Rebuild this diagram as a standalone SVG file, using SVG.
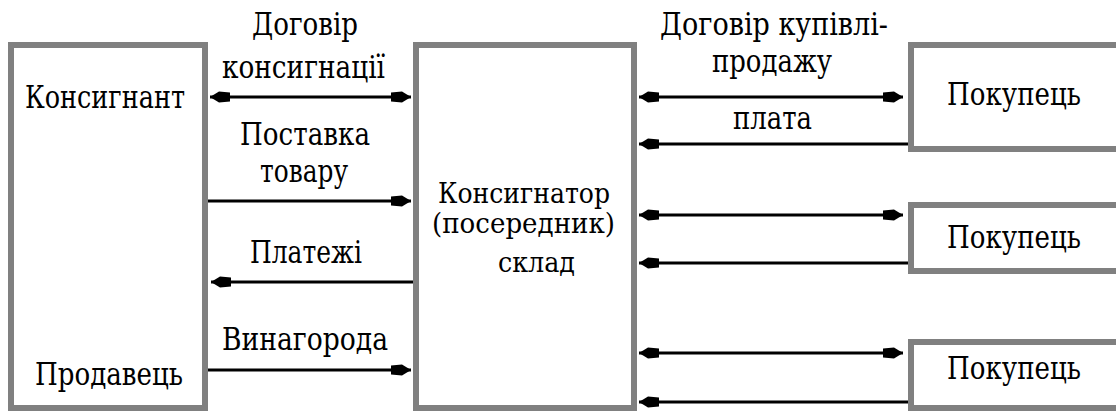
<svg xmlns="http://www.w3.org/2000/svg" width="1116" height="412" viewBox="0 0 1116 412">
  <style>
    .box { fill: #ffffff; stroke: #808080; stroke-width: 6; }
    .t { font-family: 'DejaVu Serif', 'Liberation Serif', serif; font-size: 32px; fill: #000000; }
    .m { font-size: 28px; }
    .c { stroke: #000000; stroke-width: 3; fill: none; }
  </style>
  <defs>
    <marker id="ah" markerUnits="userSpaceOnUse" markerWidth="24" markerHeight="16" refX="22" refY="8" orient="auto-start-reverse" overflow="visible">
      <path d="M22,8 L13,2.5 L2,3.5 L2,12.5 L13,13.5 Z" fill="#000000"/>
    </marker>
  </defs>
  <rect width="1116" height="412" fill="#ffffff"/>

  <g id="konsygnant">
    <rect class="box" x="11" y="45" width="194" height="363"/>
    <text class="t" x="25" y="108" textLength="160" lengthAdjust="spacingAndGlyphs">Консигнант</text>
    <text class="t" x="35" y="385" textLength="148" lengthAdjust="spacingAndGlyphs">Продавець</text>
  </g>

  <g id="konsygnator">
    <rect class="box" x="416" y="45" width="218" height="363"/>
    <text class="t m" x="438" y="203" textLength="172" lengthAdjust="spacingAndGlyphs">Консигнатор</text>
    <text class="t m" x="432" y="233" textLength="183" lengthAdjust="spacingAndGlyphs">(посередник)</text>
    <text class="t m" x="498" y="272" textLength="77" lengthAdjust="spacingAndGlyphs">склад</text>
  </g>

  <g id="pokupets1">
    <rect class="box" x="911" y="45" width="220" height="104"/>
    <text class="t" x="947" y="105" textLength="134" lengthAdjust="spacingAndGlyphs">Покупець</text>
  </g>
  <g id="pokupets2">
    <rect class="box" x="911" y="205" width="220" height="66"/>
    <text class="t" x="947" y="248" textLength="134" lengthAdjust="spacingAndGlyphs">Покупець</text>
  </g>
  <g id="pokupets3">
    <rect class="box" x="911" y="342" width="220" height="66"/>
    <text class="t" x="947" y="379" textLength="134" lengthAdjust="spacingAndGlyphs">Покупець</text>
  </g>

  <g id="connectors">
    <line class="c" x1="210" y1="97" x2="411" y2="97" marker-start="url(#ah)" marker-end="url(#ah)"/>
    <line class="c" x1="208" y1="201" x2="411" y2="201" marker-end="url(#ah)"/>
    <line class="c" x1="413" y1="282" x2="211" y2="282" marker-end="url(#ah)"/>
    <line class="c" x1="208" y1="370" x2="411" y2="370" marker-end="url(#ah)"/>

    <line class="c" x1="639" y1="97" x2="903" y2="97" marker-start="url(#ah)" marker-end="url(#ah)"/>
    <line class="c" x1="908" y1="144" x2="639" y2="144" marker-end="url(#ah)"/>
    <line class="c" x1="639" y1="215" x2="903" y2="215" marker-start="url(#ah)" marker-end="url(#ah)"/>
    <line class="c" x1="908" y1="263" x2="639" y2="263" marker-end="url(#ah)"/>
    <line class="c" x1="639" y1="353" x2="903" y2="353" marker-start="url(#ah)" marker-end="url(#ah)"/>
    <line class="c" x1="908" y1="402" x2="639" y2="402" marker-end="url(#ah)"/>
  </g>

  <g id="labels">
    <text class="t" x="252" y="35" textLength="106" lengthAdjust="spacingAndGlyphs">Договір</text>
    <text class="t" x="222" y="78" textLength="163" lengthAdjust="spacingAndGlyphs">консигнації</text>
    <text class="t" x="240" y="145" textLength="130" lengthAdjust="spacingAndGlyphs">Поставка</text>
    <text class="t" x="260" y="182" textLength="88" lengthAdjust="spacingAndGlyphs">товару</text>
    <text class="t" x="250" y="263" textLength="112" lengthAdjust="spacingAndGlyphs">Платежі</text>
    <text class="t" x="222" y="350" textLength="166" lengthAdjust="spacingAndGlyphs">Винагорода</text>
    <text class="t" x="660" y="35" textLength="228" lengthAdjust="spacingAndGlyphs">Договір купівлі-</text>
    <text class="t" x="712" y="72" textLength="120" lengthAdjust="spacingAndGlyphs">продажу</text>
    <text class="t" x="733" y="129" textLength="79" lengthAdjust="spacingAndGlyphs">плата</text>
  </g>
</svg>
